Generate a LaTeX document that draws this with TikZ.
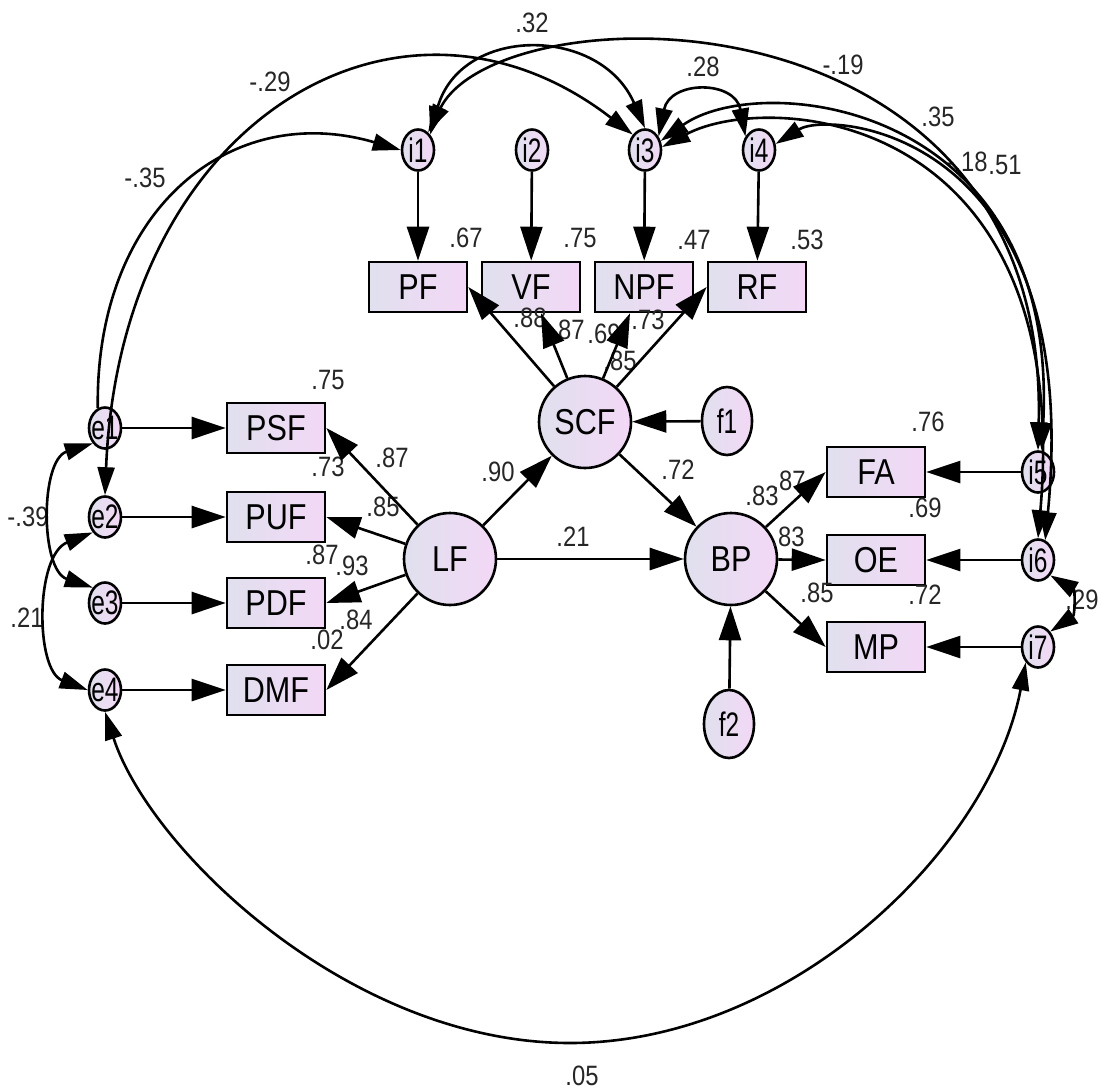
\documentclass[tikz,border=0pt]{standalone}
\usepackage{fontspec}
\setmainfont{Liberation Sans}[FakeStretch=0.85]
\newfontfamily\mynarrowfont{Liberation Sans}[FakeStretch=0.72]
\usetikzlibrary{arrows.meta,shapes.geometric}
\definecolor{fillL}{HTML}{E0E0EE}
\definecolor{fillR}{HTML}{F3D8F6}
\newcommand\mybxfont{\fontsize{36}{38}\selectfont}
\newcommand\mynmfont{\fontsize{28}{30}\selectfont}
\newcommand\myerfont{\mynarrowfont\fontsize{34}{36}\selectfont}
\begin{document}
\begin{tikzpicture}[x=1pt,y=-1pt,
  obs/.style={draw, line width=2.6pt, rectangle, minimum width=98pt, minimum height=50pt, inner sep=0pt, left color=fillL, right color=fillR, font=\mybxfont},
  lat/.style={draw, line width=2.6pt, circle, minimum size=92pt, inner sep=0pt, left color=fillL, right color=fillR, font=\mybxfont},
  err/.style={draw, line width=2.6pt, ellipse, minimum width=32pt, minimum height=41pt, inner sep=0pt, left color=fillL, right color=fillR, font=\myerfont},
  dist/.style={draw, line width=2.6pt, ellipse, minimum width=50pt, minimum height=68pt, inner sep=0pt, left color=fillL, right color=fillR, font=\myerfont},
  lab/.style={font=\mynmfont, inner sep=0pt, text=black!85},
  pth/.style={line width=2.6pt, -{Triangle[length=34pt,width=22pt]}},
  cov/.style={line width=2.6pt, {Triangle[length=28pt,width=17pt]}-{Triangle[length=28pt,width=17pt]}},
  covr/.style={line width=2.6pt, -{Triangle[length=28pt,width=17pt]}}
]
\useasboundingbox (0,0) rectangle (1100,1090);

% ---------- nodes ----------
\node[err] (i1) at (418,150) {\makebox[0pt]{i1}};
\node[err] (i2) at (532,150) {\makebox[0pt]{i2}};
\node[err] (i3) at (645,150) {\makebox[0pt]{i3}};
\node[err] (i4) at (759,150) {\makebox[0pt]{i4}};

\node[obs] (PF)  at (418,287) {PF};
\node[obs] (VF)  at (531,287) {VF};
\node[obs] (NPF) at (644,287) {NPF};
\node[obs] (RF)  at (757,287) {RF};

\node[lat] (SCF) at (585,422) {SCF};
\node[dist] (f1) at (727,421) {\makebox[0pt]{f1}};

\node[lat] (LF) at (450,559) {LF};
\node[lat] (BP) at (731,559) {BP};
\node[dist] (f2) at (729,724) {\makebox[0pt]{f2}};

\node[obs] (PSF) at (276,428) {PSF};
\node[obs] (PUF) at (276,517) {PUF};
\node[obs] (PDF) at (276,603) {PDF};
\node[obs] (DMF) at (276,690) {DMF};

\node[err] (e1) at (105,428) {\makebox[0pt]{e1}};
\node[err] (e2) at (105,517) {\makebox[0pt]{e2}};
\node[err] (e3) at (105,603) {\makebox[0pt]{e3}};
\node[err] (e4) at (105,690) {\makebox[0pt]{e4}};

\node[obs] (FA) at (876,472) {FA};
\node[obs] (OE) at (876,560) {OE};
\node[obs] (MP) at (876,647) {MP};

\node[err] (i5) at (1038,472) {\makebox[0pt]{i5}};
\node[err] (i6) at (1038,560) {\makebox[0pt]{i6}};
\node[err] (i7) at (1038,647) {\makebox[0pt]{i7}};

% ---------- labels ----------
\node[lab] (l01) at (466,238) {.67};
\node[lab] (l02) at (580,238) {.75};
\node[lab] (l03) at (694,240) {.47};
\node[lab] (l04) at (807,240) {.53};
\node[lab] (l05) at (530,318) {.88};
\node[lab] (l06) at (568,330) {.87};
\node[lab] (l07) at (604,334) {.69};
\node[lab] (l08) at (648,320) {.73};
\node[lab] (l09) at (620,361) {.85};
\node[lab] (l10) at (328,380) {.75};
\node[lab] (l11) at (392,458) {.87};
\node[lab] (l12) at (328,467) {.73};
\node[lab] (l13) at (383,507) {.85};
\node[lab] (l14) at (322,555) {.87};
\node[lab] (l15) at (352,566) {.93};
\node[lab] (l16) at (356,620) {.84};
\node[lab] (l17) at (327,640) {.02};
\node[lab] (l18) at (498,472) {.90};
\node[lab] (l19) at (573,537) {.21};
\node[lab] (l20) at (678,470) {.72};
\node[lab] (l21) at (762,496) {.83};
\node[lab] (l22) at (789,481) {.87};
\node[lab] (l23) at (788,537) {.83};
\node[lab] (l24) at (817,593) {.85};
\node[lab] (l25) at (928,422) {.76};
\node[lab] (l26) at (925,508) {.69};
\node[lab] (l27) at (925,595) {.72};
\node[lab] (l28) at (1082,600) {.29};
\node[lab] (l29) at (532,23) {.32};
\node[lab] (l30) at (270,82) {-.29};
\node[lab] (l31) at (145,178) {-.35};
\node[lab] (l32) at (703,67) {.28};
\node[lab] (l33) at (843,65) {-.19};
\node[lab] (l34) at (938,117) {.35};
\node[lab] (l35) at (967,162) {-.18};
\node[lab] (l36) at (1005,165) {.51};
\node[lab] (l37) at (28,517) {-.39};
\node[lab] (l38) at (27,618) {.21};
\node[lab] (l39) at (582,1076) {.05};

% ---------- directed paths ----------
\draw[pth] (i1) -- (PF);
\draw[pth] (i2) -- (VF);
\draw[pth] (i3) -- (NPF);
\draw[pth] (i4) -- (RF);
\draw[pth] (SCF) -- (PF.east);
\draw[pth] (SCF) -- ([xshift=10pt]VF.south);
\draw[pth] (SCF) -- ([xshift=-14pt]NPF.south);
\draw[pth] (SCF) -- (RF.west);
\draw[pth] (f1) -- (SCF);
\draw[pth] (LF) -- (SCF);
\draw[pth] (LF) -- (BP);
\draw[pth] (SCF) -- (BP);
\draw[pth] (f2) -- (BP);
\draw[pth] (LF) -- (PSF.east);
\draw[pth] (LF) -- (PUF.east);
\draw[pth] (LF) -- (PDF.east);
\draw[pth] (LF) -- (DMF.east);
\draw[pth] (e1) -- (PSF);
\draw[pth] (e2) -- (PUF);
\draw[pth] (e3) -- (PDF);
\draw[pth] (e4) -- (DMF);
\draw[pth] (BP) -- (FA.west);
\draw[pth] (BP) -- (OE.west);
\draw[pth] (BP) -- (MP.west);
\draw[pth] (i5) -- (FA);
\draw[pth] (i6) -- (OE);
\draw[pth] (i7) -- (MP);

% ---------- covariances ----------
\draw[covr] (e1.110) .. controls (95,210) and (230,100) .. (i1.west);
\draw[cov] (e2.north) .. controls (120,120) and (400,-45) .. (i3.north west);
\draw[cov] (i1.north east) .. controls (460,25) and (600,25) .. (i3.north);
\draw[cov] (i1.60) .. controls (500,-10) and (1050,-20) .. (i5.north);
\draw[cov] (i3.45) .. controls (670,80) and (735,80) .. (i4.135);
\draw[cov] (i3.30) .. controls (760,70) and (1060,100) .. (i5.80);
\draw[cov] (i3.10) .. controls (770,90) and (1075,110) .. (i6.north);
\draw[cov] (i4.20) .. controls (830,110) and (1085,130) .. (i6.70);
\draw[cov] (i6.south east) .. controls (1075,590) and (1075,615) .. (i7.north east);
\draw[cov] (e1.south west) .. controls (40,460) and (40,570) .. (e3.north west);
\draw[cov] (e2.south west) .. controls (35,555) and (35,670) .. (e4.west);
\draw[cov] (e4.south) .. controls (150,850) and (350,1043) .. (570,1043) .. controls (790,1043) and (990,850) .. (i7.south west);
\end{tikzpicture}
\end{document}
